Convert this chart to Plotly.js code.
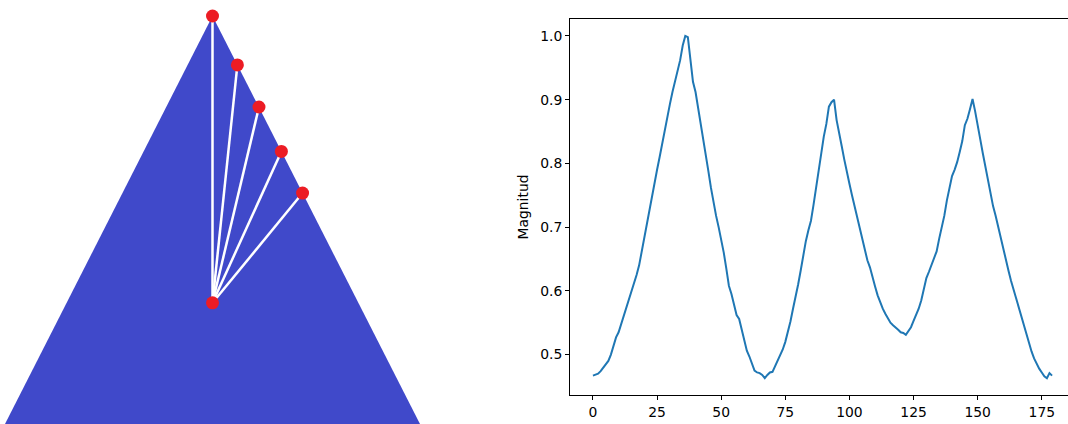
<!DOCTYPE html>
<html>
<head>
<meta charset="utf-8">
<script src="https://cdn.plot.ly/plotly-3.0.1.min.js"></script>
<style>
html, body { margin: 0; padding: 0; overflow: hidden; background: #fff; }
#chart { width: 1076px; height: 424px; }
</style>
</head>
<body>
<div id="chart"></div>
<script>
// Left panel: triangle geometry (unit coordinates)
const triangleX = [0, 1, 0.5, 0];
const triangleY = [0, 0, 1, 0];
const edgePointsX = [0.5, 0.56, 0.612, 0.666, 0.717];
const edgePointsY = [1.0, 0.88, 0.777, 0.668, 0.566];
const centerX = 0.5;
const centerY = 0.297;

// Right panel: magnitude series
const angles = Array.from({length: 180}, (_, i) => i);
const magnitude = [
  0.467, 0.468, 0.470, 0.474, 0.479, 0.485, 0.490, 0.500, 0.515, 0.527,
  0.535, 0.548, 0.558, 0.572, 0.585, 0.596, 0.612, 0.625, 0.640, 0.662,
  0.685, 0.708, 0.727, 0.750, 0.770, 0.790, 0.810, 0.832, 0.853, 0.873,
  0.893, 0.912, 0.928, 0.942, 0.962, 0.985, 1.000, 0.998, 0.960, 0.928,
  0.912, 0.888, 0.865, 0.840, 0.815, 0.788, 0.762, 0.738, 0.718, 0.700,
  0.682, 0.660, 0.635, 0.608, 0.595, 0.578, 0.562, 0.556, 0.540, 0.520,
  0.506, 0.497, 0.485, 0.475, 0.472, 0.471, 0.468, 0.463, 0.468, 0.472,
  0.473, 0.482, 0.490, 0.498, 0.508, 0.520, 0.534, 0.552, 0.572, 0.590,
  0.610, 0.632, 0.658, 0.678, 0.695, 0.710, 0.735, 0.762, 0.790, 0.812,
  0.842, 0.862, 0.889, 0.896, 0.900, 0.868, 0.850, 0.827, 0.806, 0.785,
  0.768, 0.750, 0.733, 0.715, 0.698, 0.680, 0.664, 0.648, 0.637, 0.620,
  0.607, 0.593, 0.582, 0.572, 0.564, 0.556, 0.550, 0.546, 0.543, 0.539,
  0.535, 0.534, 0.531, 0.537, 0.543, 0.553, 0.562, 0.572, 0.585, 0.602,
  0.620, 0.630, 0.640, 0.652, 0.662, 0.682, 0.700, 0.718, 0.742, 0.762,
  0.780, 0.790, 0.802, 0.818, 0.835, 0.860, 0.870, 0.885, 0.901, 0.882,
  0.862, 0.838, 0.816, 0.795, 0.775, 0.752, 0.733, 0.718, 0.700, 0.683,
  0.665, 0.648, 0.632, 0.616, 0.602, 0.588, 0.574, 0.560, 0.543, 0.530,
  0.518, 0.505, 0.494, 0.485, 0.478, 0.472, 0.466, 0.463, 0.471, 0.467
];
const xTicks = [0, 25, 50, 75, 100, 125, 150, 175];
const yTicks = [0.5, 0.6, 0.7, 0.8, 0.9, 1.0];
const yLabel = 'Magnitud';

// Build spoke lines from center to each edge point
const spokeX = [], spokeY = [];
edgePointsX.forEach((x, k) => {
  spokeX.push(centerX, x, null);
  spokeY.push(centerY, edgePointsY[k], null);
});

const W = 1076, H = 424;
const traces = [
  {
    x: triangleX, y: triangleY, xaxis: 'x2', yaxis: 'y2',
    type: 'scatter', mode: 'lines', fill: 'toself',
    fillcolor: '#4049CA', line: {color: '#4049CA', width: 0},
    hoverinfo: 'skip', showlegend: false
  },
  {
    x: spokeX, y: spokeY, xaxis: 'x2', yaxis: 'y2',
    type: 'scatter', mode: 'lines',
    line: {color: '#ffffff', width: 2.5},
    hoverinfo: 'skip', showlegend: false
  },
  {
    x: edgePointsX.concat([centerX]), y: edgePointsY.concat([centerY]),
    xaxis: 'x2', yaxis: 'y2',
    type: 'scatter', mode: 'markers',
    marker: {color: '#EC1C24', size: 13, line: {width: 0}},
    showlegend: false
  },
  {
    x: angles, y: magnitude, xaxis: 'x', yaxis: 'y',
    type: 'scatter', mode: 'lines',
    line: {color: '#1f77b4', width: 2},
    showlegend: false
  }
];

const axisFont = {family: 'DejaVu Sans, sans-serif', size: 13.9, color: '#000'};
const layout = {
  width: W, height: H,
  margin: {l: 0, r: 0, t: 0, b: 0},
  paper_bgcolor: '#ffffff', plot_bgcolor: '#ffffff',
  showlegend: false,
  xaxis: {
    domain: [570 / W, 1075 / W],
    range: [-8.95, 187.95],
    tickmode: 'array', tickvals: xTicks,
    ticks: 'outside', ticklen: 4, tickwidth: 1, tickcolor: '#000',
    showline: true, linecolor: '#000', linewidth: 1, mirror: true,
    showgrid: false, zeroline: false,
    tickfont: axisFont, anchor: 'y'
  },
  yaxis: {
    domain: [29 / H, 405 / H],
    range: [0.4366, 1.0266],
    tickmode: 'array', tickvals: yTicks, tickformat: '.1f',
    ticks: 'outside', ticklen: 4, tickwidth: 1, tickcolor: '#000',
    showline: true, linecolor: '#000', linewidth: 1, mirror: true,
    showgrid: false, zeroline: false,
    tickfont: axisFont, anchor: 'x',
    title: {text: yLabel, font: axisFont, standoff: 8}
  },
  xaxis2: {
    domain: [0, 430 / W],
    range: [-5 / 415, 425 / 415],
    visible: false, anchor: 'y2', fixedrange: true
  },
  yaxis2: {
    domain: [0, 1],
    range: [0, 424 / 408],
    visible: false, anchor: 'x2', fixedrange: true
  }
};

Plotly.newPlot('chart', traces, layout, {displayModeBar: false, staticPlot: true});
</script>
</body>
</html>
